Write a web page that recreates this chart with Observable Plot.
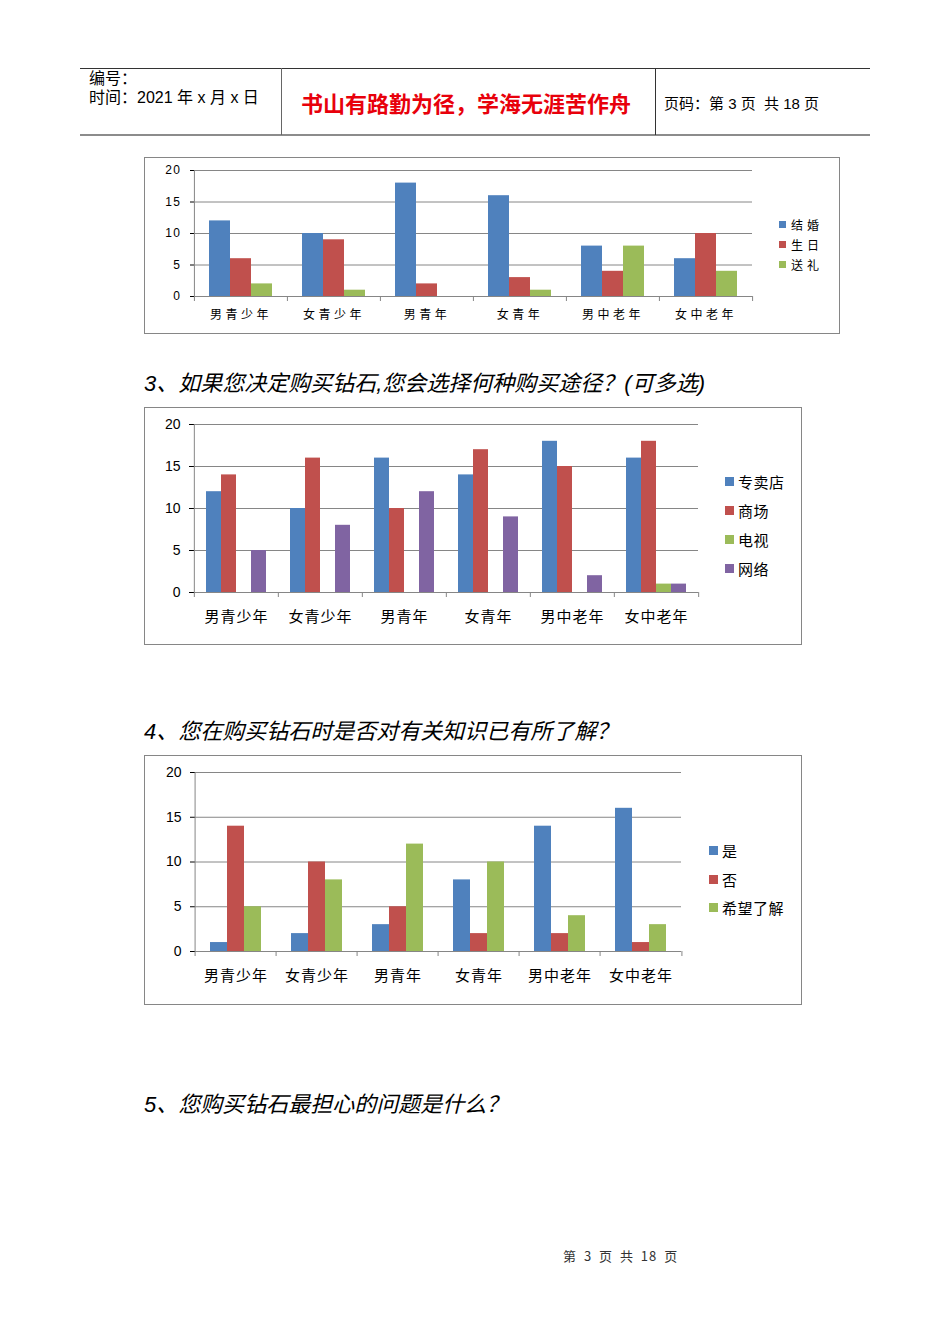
<!DOCTYPE html>
<html><head><meta charset="utf-8">
<script src="https://cdn.jsdelivr.net/npm/d3@7"></script>
<script src="https://cdn.jsdelivr.net/npm/@observablehq/plot@0.6"></script>
<style>
body{margin:0;background:#fff;}
#page{position:relative;width:950px;height:1344px;background:#fff;font-family:"Liberation Sans","Noto Sans CJK SC",sans-serif;color:#000;overflow:hidden}
.abs{position:absolute;white-space:pre;line-height:1}
.box{position:absolute;border:1px solid #868686;box-sizing:border-box}
.q{position:absolute;font-size:22px;font-style:italic;white-space:nowrap;line-height:1;font-family:"Liberation Sans","Noto Sans CJK SC",sans-serif}
svg [aria-label="y-axis tick"]{stroke:#868686}
.c1 g[aria-label^="fx-axis"] text{letter-spacing:3.5px}
.c1 g[aria-label^="y-axis"] text{letter-spacing:1.5px}
.c2 g[aria-label^="fx-axis"] text, .c3 g[aria-label^="fx-axis"] text{font-size:15px;letter-spacing:1px}
.lg{position:absolute;white-space:nowrap;line-height:1;font-family:"Noto Sans CJK SC",sans-serif}
.lg span.sw{display:inline-block;vertical-align:middle}
</style></head>
<body><div id="page"></div>
<script>
// ---------- data ----------
const categories = ["男青少年","女青少年","男青年","女青年","男中老年","女中老年"];
const yTicks = [0,5,10,15,20];

const chart1Series = ["结婚","生日","送礼"];
const chart1Wedding  = [12,10,18,16,8,6];
const chart1Birthday = [6,9,2,3,4,10];
const chart1Gift     = [2,1,0,1,8,4];

const chart2Title = "3、如果您决定购买钻石,您会选择何种购买途径？(可多选)";
const chart2Series = ["专卖店","商场","电视","网络"];
const chart2Store  = [12,10,16,14,18,16];
const chart2Mall   = [14,16,10,17,15,18];
const chart2TV     = [0,0,0,0,0,1];
const chart2Online = [5,8,12,9,2,1];

const chart3Title = "4、您在购买钻石时是否对有关知识已有所了解？";
const chart3Series = ["是","否","希望了解"];
const chart3Yes  = [1,2,3,8,14,16];
const chart3No   = [14,10,5,2,2,1];
const chart3Want = [5,8,12,10,4,3];

const question5 = "5、您购买钻石最担心的问题是什么？";

const colors3 = ["#4F81BD","#C0504D","#9BBB59"];
const colors4 = ["#4F81BD","#C0504D","#9BBB59","#8064A2"];

// ---------- page ----------
const page = document.getElementById("page");
function el(cls, css, text) {
  const d = document.createElement("div");
  if (cls) d.className = cls;
  Object.assign(d.style, css);
  if (text != null) d.textContent = text;
  page.appendChild(d);
  return d;
}

// header table
el("", {position:"absolute", left:"80px", top:"68px", width:"790px", height:"0", borderTop:"1px solid #333"});
el("", {position:"absolute", left:"80px", top:"134px", width:"790px", height:"0", borderTop:"2px solid #8c8c8c"});
el("", {position:"absolute", left:"281px", top:"68px", width:"0", height:"67px", borderLeft:"1px solid #666"});
el("", {position:"absolute", left:"655px", top:"68px", width:"0", height:"67px", borderLeft:"1px solid #333"});
el("abs", {left:"89px", top:"71px", fontSize:"16px"}, "编号：");
el("abs", {left:"89px", top:"90px", fontSize:"16px"}, "时间：2021 年 x 月 x 日");
el("abs", {left:"301px", top:"91px", fontSize:"22px", color:"#E8000B", fontWeight:"bold", fontFamily:"'Noto Sans CJK SC',sans-serif"}, "书山有路勤为径，学海无涯苦作舟");
el("abs", {left:"664px", top:"96px", fontSize:"15px"}, "页码：第 3 页  共 18 页");

// questions
el("q", {left:"144px", top:"373px"}, chart2Title);
el("q", {left:"144px", top:"721px"}, chart3Title);
el("q", {left:"144px", top:"1094px"}, question5);

// footer
el("abs", {left:"563px", top:"1249px", fontSize:"13px", color:"#333", letterSpacing:"1px", wordSpacing:"3px", fontFamily:"'Noto Sans CJK SC',sans-serif"}, "第 3 页 共 18 页");

// ---------- charts ----------
function chart(cfg) {
  const {cls, left, top, boxW, boxH, svgW, svgH, ml, mr, mt, mb, series, values, colors,
         fs, pad, fxPad, ytSize, ytPad, legend} = cfg;
  el("box", {left: left+"px", top: top+"px", width: boxW+"px", height: boxH+"px"});
  const rows = series.flatMap((s, j) => categories.map((c, i) => ({cat: c, series: s, value: values[j][i]})));
  const fw = (svgW - ml - mr) / categories.length;
  const plotH = svgH - mt - mb;
  const tickLen = 5 * 20 / plotH;
  const grid = "#868686";
  const plot = Plot.plot({
    width: svgW, height: svgH,
    marginLeft: ml, marginRight: mr, marginTop: mt, marginBottom: mb,
    style: {fontFamily: "'Liberation Sans','Noto Sans CJK SC',sans-serif", fontSize: fs+"px",
            color: "#000", background: "transparent", overflow: "visible"},
    fx: {domain: categories, padding: 0, label: null, axis: "bottom", tickSize: 0, tickPadding: fxPad},
    x: {domain: series, paddingInner: 0, paddingOuter: pad, axis: null},
    y: {domain: [0, 20], ticks: yTicks, tickSize: ytSize, tickPadding: ytPad, label: null},
    color: {domain: series, range: colors},
    marks: [
      Plot.ruleY(yTicks.slice(1), {stroke: grid, strokeWidth: 1}),
      Plot.barY(rows, {fx: "cat", x: "series", y1: 0, y2: "value", fill: "series"}),
      Plot.ruleY([0], {stroke: grid, strokeWidth: 1}),
      Plot.ruleX(categories, {fx: d => d, x: null, y1: 0, y2: -tickLen, dx: -fw/2, stroke: grid}),
      Plot.ruleX([categories[categories.length-1]], {fx: d => d, x: null, y1: 0, y2: -tickLen, dx: fw/2, stroke: grid}),
      Plot.ruleX([categories[0]], {fx: d => d, x: null, y1: 0, y2: 20, dx: -fw/2, stroke: grid})
    ]
  });
  plot.classList.add(cls);
  plot.style.position = "absolute";
  plot.style.left = left + "px";
  plot.style.top = top + "px";
  page.appendChild(plot);
  // legend
  series.forEach((s, j) => {
    const row = el("lg", {left: legend.x+"px", top: (legend.ys[j] - legend.fs/2 - legend.up)+"px",
                          fontSize: legend.fs+"px", letterSpacing: legend.ls+"px", height: legend.fs+"px"});
    const sw = document.createElement("span");
    sw.className = "sw";
    Object.assign(sw.style, {width: legend.sw+"px", height: legend.sw+"px", background: colors[j], marginRight: legend.gap+"px"});
    const t = document.createElement("span");
    t.textContent = s;
    t.style.verticalAlign = "middle";
    row.appendChild(sw); row.appendChild(t);
  });
}

chart({cls:"c1", left:144, top:157, boxW:696, boxH:177, svgW:620, svgH:176, ml:49, mr:12, mt:13, mb:37,
  series: chart1Series, values: [chart1Wedding, chart1Birthday, chart1Gift], colors: colors3,
  fs: 12, pad: 0.71, fxPad: 14, ytSize: 4, ytPad: 9,
  legend: {x: 779, ys: [225, 245, 265], fs: 12, ls: 4, sw: 7, gap: 5, up: 2}});

chart({cls:"c2", left:144, top:407, boxW:658, boxH:238, svgW:560, svgH:237, ml:49, mr:5, mt:17, mb:52,
  series: chart2Series, values: [chart2Store, chart2Mall, chart2TV, chart2Online], colors: colors4,
  fs: 14, pad: 0.72, fxPad: 19, ytSize: 5, ytPad: 9,
  legend: {x: 725, ys: [482, 511, 540, 569], fs: 15, ls: 0.5, sw: 9, gap: 4, up: 3}});

chart({cls:"c3", left:144, top:755, boxW:658, boxH:250, svgW:544, svgH:249, ml:48, mr:5, mt:17, mb:53,
  series: chart3Series, values: [chart3Yes, chart3No, chart3Want], colors: colors3,
  fs: 14, pad: 0.78, fxPad: 19, ytSize: 5, ytPad: 9,
  legend: {x: 709, ys: [851, 880, 908], fs: 15, ls: 0.5, sw: 9, gap: 4, up: 3}});
</script>
</body></html>
